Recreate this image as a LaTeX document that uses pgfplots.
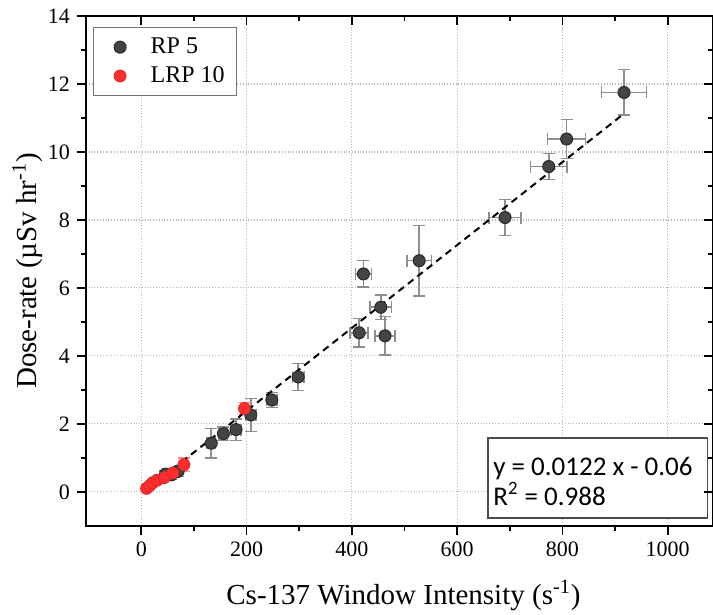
\documentclass[border=0pt]{standalone}
\usepackage{fontspec}
\setmainfont{Liberation Serif}
\newfontfamily\serifx{Liberation Serif}
\newfontfamily\boxfont{Carlito}
\usepackage{pgfplots}
\pgfplotsset{compat=1.18}
\definecolor{ptgray}{HTML}{444444}
\definecolor{ptedge}{HTML}{2A2A2A}
\definecolor{errgray}{HTML}{8E8E8E}
\definecolor{ptred}{HTML}{FF2E2E}
\definecolor{errred}{HTML}{FF8A8A}
\pgfplotstableread{
x y ex ey
917 11.75 43 0.67
808 10.38 36 0.57
774 9.57 35 0.38
691 8.07 30 0.53
528 6.80 23 1.03
422 6.41 15 0.39
455 5.43 20 0.36
414 4.68 17 0.42
463 4.59 19 0.57
298 3.38 11 0.40
248 2.70 10 0.22
208 2.26 10 0.48
180 1.83 9 0.32
156 1.71 8 0.20
133 1.43 8 0.43
70 0.60 6 0.15
57 0.50 5 0.12
46 0.52 5 0.10
}\rpfive
\pgfplotstableread{
x y ex ey
10 0.10 3 0.05
16 0.18 3 0.05
22 0.27 3 0.06
30 0.34 4 0.06
44 0.42 4 0.08
60 0.55 5 0.10
81 0.80 6 0.20
196 2.45 7 0.18
}\lrpten
\begin{document}
\begin{tikzpicture}
\pgfplotsset{
  common/.style={
    scale only axis, width=313.5pt, height=254.9pt,
    xmin=-105, xmax=1086, ymin=-1, ymax=14,
    xtick={0,200,...,1000}, ytick={0,2,...,14},
    minor x tick num=1, minor y tick num=1,
    major tick length=4.5pt, minor tick length=2.5pt,
    tick style={black, line width=0.8pt},
    axis line style={line width=0.9pt},
  }
}
\begin{axis}[common,
  tick align=outside, xtick pos=bottom, ytick pos=left,
  grid=major, major grid style={densely dotted, color=black!28, line width=0.6pt},
  tick label style={font=\serifx\fontsize{11}{12}\selectfont},
  /pgf/number format/assume math mode=true,
  /pgf/number format/1000 sep={},
  xlabel={Cs-137 Window Intensity (s\textsuperscript{-1})},
  ylabel={Dose-rate (µSv hr\textsuperscript{-1})},
  label style={font=\serifx\fontsize{14.5}{16}\selectfont},
  xlabel style={yshift=-5pt, xshift=2pt},
  ylabel style={yshift=-4pt},
  legend style={at={(0.011,0.978)}, anchor=north west, draw=black!55, line width=0.6pt,
    font=\serifx\fontsize{12}{14}\selectfont, inner xsep=4pt, inner ysep=3pt, row sep=1pt},
  legend cell align=left,
  legend image code/.code={\path (0pt,0pt) (22pt,0pt); \draw[#1] plot coordinates {(9pt,0pt)};},
]
\addplot[only marks, mark=*, mark size=3pt, mark options={fill=ptgray, draw=ptedge, line width=0.5pt},
  error bars/.cd, x dir=both, x explicit, y dir=both, y explicit,
  error bar style={color=errgray, line width=0.8pt},
  error mark options={rotate=90, color=errgray, mark size=3pt, line width=0.8pt}]
  table[x=x, y=y, x error=ex, y error=ey] {\rpfive};
\addlegendentry{RP 5}
\addplot[only marks, mark=*, mark size=3pt, mark options={fill=ptred, draw=ptred!85!black, line width=0.4pt},
  error bars/.cd, x dir=both, x explicit, y dir=both, y explicit,
  error bar style={color=errred, line width=0.8pt},
  error mark options={rotate=90, color=errred, mark size=3pt, line width=0.8pt}]
  table[x=x, y=y, x error=ex, y error=ey] {\lrpten};
\addlegendentry{LRP 10}
\addplot[black, line width=1pt, dash pattern=on 3.5pt off 2.5pt, forget plot] coordinates {(5,0.001) (915,11.103)};
\draw[black!70, line width=0.7pt, fill=white] (axis cs:658.5,1.58) rectangle (axis cs:1075,-0.77);
\coordinate (T1) at (axis cs:668,0.49);
\coordinate (T2) at (axis cs:668,-0.39);
\coordinate (SW) at (rel axis cs:0,0);
\coordinate (NE) at (rel axis cs:1,1);
\end{axis}
\begin{axis}[common, tick align=inside, xtick pos=top, ytick pos=right,
  xticklabels={}, yticklabels={}]
\end{axis}
\node[anchor=base west, inner sep=0pt, font=\boxfont\fontsize{13.5}{16}\selectfont] at (T1) {y = 0.0122 x - 0.06};
\node[anchor=base west, inner sep=0pt, font=\boxfont\fontsize{13.5}{16}\selectfont] at (T2) {R\textsuperscript{2} = 0.988};
\pgfresetboundingbox
\path ([shift={(-43pt,-44.6pt)}]SW) rectangle ([shift={(0pt,8pt)}]NE);
\end{tikzpicture}
\end{document}
